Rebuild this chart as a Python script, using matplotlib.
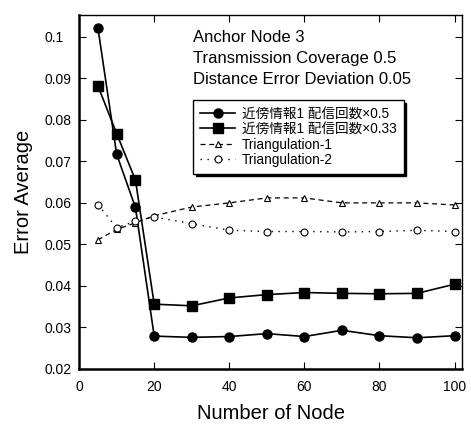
import matplotlib
matplotlib.use("Agg")
import matplotlib.pyplot as plt

plt.rcParams['font.family'] = ['Liberation Sans', 'Noto Sans CJK JP', 'DejaVu Sans']

# data
nodes = [5, 10, 15, 20, 30, 40, 50, 60, 70, 80, 90, 100]
kinbo_05 = [0.1022, 0.0717, 0.0589, 0.0279, 0.0276, 0.0278, 0.0285, 0.0278, 0.0293, 0.0280, 0.0275, 0.0280]
kinbo_033 = [0.0882, 0.0767, 0.0655, 0.0356, 0.0352, 0.0371, 0.0379, 0.0384, 0.0382, 0.0381, 0.0382, 0.0404]
tri_1 = [0.0511, 0.0536, 0.0552, 0.0569, 0.0590, 0.0600, 0.0612, 0.0612, 0.0600, 0.0600, 0.0600, 0.0595]
tri_2 = [0.0596, 0.0540, 0.0556, 0.0566, 0.0550, 0.0534, 0.0531, 0.0531, 0.0530, 0.0531, 0.0534, 0.0531]

xticks = [0, 20, 40, 60, 80, 100]
yticks = [0.02, 0.03, 0.04, 0.05, 0.06, 0.07, 0.08, 0.09, 0.1]
ytick_labels = ['0.02', '0.03', '0.04', '0.05', '0.06', '0.07', '0.08', '0.09', '0.1']

fig = plt.figure(figsize=(4.71, 4.25), dpi=100)
ax = fig.add_axes([0.168, 0.132, 0.813, 0.833])

ax.plot(nodes, kinbo_05, 'k-', marker='o', markersize=6.5, linewidth=1.2,
        label='近傍情報1 配信回数×0.5')
ax.plot(nodes, kinbo_033, 'k-', marker='s', markersize=6.5, linewidth=1.2,
        label='近傍情報1 配信回数×0.33')
ax.plot(nodes, tri_1, color='k', linestyle=(0, (4, 3)), marker='^', markersize=5,
        markerfacecolor='white', markeredgewidth=0.8, linewidth=0.9, label='Triangulation-1')
ax.plot(nodes, tri_2, color='k', linestyle=(0, (1, 4)), marker='o', markersize=5,
        markerfacecolor='white', markeredgewidth=0.8, linewidth=1.0, label='Triangulation-2')

ax.set_xlim(0, 102)
ax.set_ylim(0.02, 0.1053)
ax.set_xticks(xticks)
ax.set_yticks(yticks)
ax.set_yticklabels(ytick_labels)
ax.tick_params(direction='in', top=True, right=True, labelsize=10, length=5)
ax.tick_params(axis='x', pad=8)
ax.tick_params(axis='y', pad=25)
for lbl in ax.get_yticklabels():
    lbl.set_horizontalalignment('left')
for s in ax.spines.values():
    s.set_linewidth(1.0)
ax.spines['left'].set_linewidth(1.8)
ax.spines['bottom'].set_linewidth(1.8)

ax.set_xlabel('Number of Node', fontsize=14.5, labelpad=7)
ax.set_ylabel('Error Average', fontsize=14.5, labelpad=8)

for i, line in enumerate(['Anchor Node 3', 'Transmission Coverage 0.5',
                          'Distance Error Deviation 0.05']):
    fig.text(0.41, 1 - (37 + 21.5 * i) / 425, line, fontsize=12, va='center', ha='left')

leg = ax.legend(loc='upper left', bbox_to_anchor=(0.41, 1 - 100 / 425), bbox_transform=fig.transFigure,
                fontsize=9.8, frameon=True, fancybox=False, edgecolor='black',
                shadow={'color': 'black', 'alpha': 1}, handlelength=2.6,
                labelspacing=0.1, borderpad=0.5, handletextpad=0.5, borderaxespad=0)
leg.get_frame().set_linewidth(1.0)

fig.savefig('out.png', dpi=100)
